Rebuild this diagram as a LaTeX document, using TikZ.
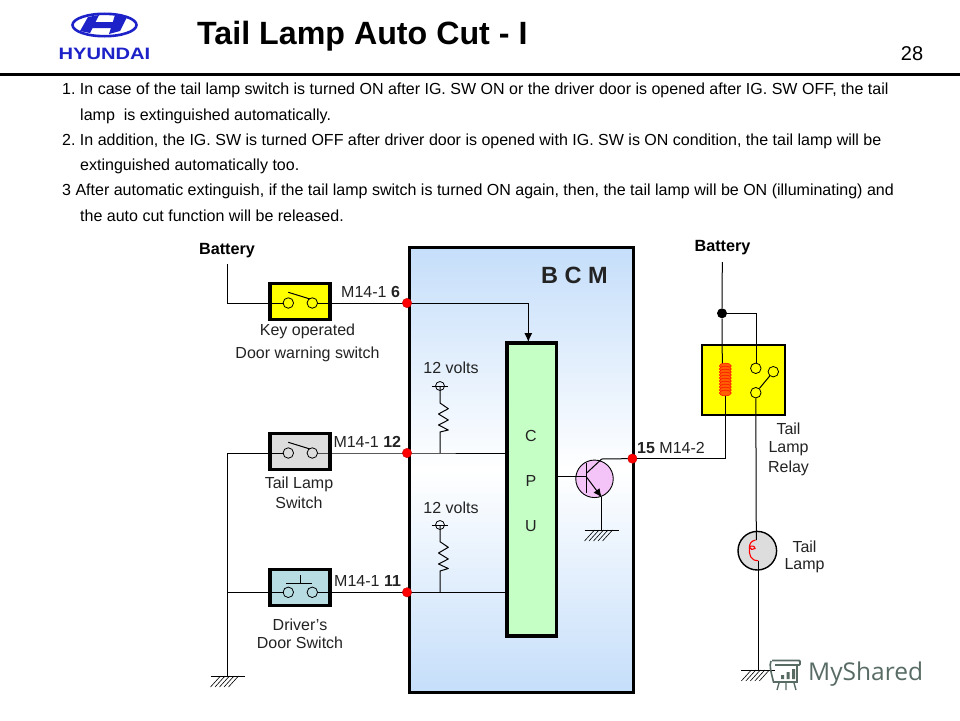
\documentclass[tikz,border=0pt]{standalone}
\usepackage{fontspec}
\setmainfont{Liberation Sans}
\newfontfamily\wmfont{Open Sans}
\usetikzlibrary{arrows.meta}
\definecolor{hblue}{RGB}{28,34,200}
\definecolor{bcmtop}{RGB}{197,222,250}
\definecolor{swy}{RGB}{255,255,0}
\definecolor{swg}{RGB}{221,221,221}
\definecolor{swt}{RGB}{183,221,226}
\definecolor{cpug}{RGB}{198,255,198}
\definecolor{tpink}{RGB}{244,196,248}
\definecolor{ctext}{RGB}{35,35,35}
\definecolor{wmark}{RGB}{88,108,100}
\tikzset{
  wire/.style={draw=black,line width=1pt},
  heavy/.style={draw=black,line width=3.2pt,outer sep=0pt},
  swbox/.style={heavy,minimum width=60pt,minimum height=36.5pt,inner sep=0pt},
  term/.style={circle,draw=black,line width=0.8pt,minimum size=10.5pt,inner sep=0pt},
  pin/.style={circle,fill=red,draw=red!75!black,line width=0.3pt,minimum size=9.5pt,inner sep=0pt},
  body/.style={font=\fontsize{16.02}{16}\selectfont,text=black,anchor=west,inner sep=0pt},
  lab/.style={font=\fontsize{16}{19}\selectfont,text=ctext,align=center,inner sep=0pt},
  blab/.style={font=\fontsize{16.2}{19}\selectfont\bfseries,text=black,inner sep=0pt},
  hatch/.style={draw=black,line width=0.6pt}
}
\newcommand{\earth}[1]{%
  \draw[wire] ([xshift=-17pt]#1) -- ([xshift=17pt]#1);
  \foreach \k in {-7,-2.5,2,6.5,11}
    \draw[hatch] ([xshift=\k pt]#1) -- ([xshift=\k pt-10pt,yshift=-11pt]#1);
}
\begin{document}
\begin{tikzpicture}[x=1pt,y=-1pt]
\useasboundingbox (0,0) rectangle (960,720);
\fill[white] (0,0) rectangle (960,720);
% header
\fill[black] (0,72.5) rectangle (960,75.5);
\node[anchor=west,inner sep=0pt,font=\fontsize{32.2}{33}\selectfont\bfseries] (title) at (197,36.5) {Tail Lamp Auto Cut - I};
\node[anchor=center,inner sep=0pt,font=\fontsize{20}{20}\selectfont] (page) at (912,54) {28};
% logo
\draw[hblue,line width=2.6pt] (104.5,25) ellipse [x radius=32,y radius=11.2];
\fill[hblue] (88,17) -- (99,15) -- (90,33) -- (80,31) -- cycle;
\fill[hblue] (115,15) -- (127,17) -- (120,31) -- (109,34) -- cycle;
\fill[hblue] (94,22) -- (120,22) -- (116,28) -- (92,28) -- cycle;
\node[anchor=center,inner sep=0pt,text=hblue,xscale=1.22,font=\fontsize{16.5}{16.5}\selectfont\bfseries] (logo) at (104.5,53.5) {HYUNDAI};
% body text
\node[body] (t1) at (62,90) {1.\ In case of the tail lamp switch is turned ON after IG. SW ON or the driver door is opened after IG. SW OFF, the tail};
\node[body] (t2) at (80,116) {lamp\ \ is extinguished automatically.};
\node[body] (t3) at (62,141) {2.\ In addition, the IG. SW is turned OFF after driver door is opened with IG. SW is ON condition, the tail lamp will be};
\node[body] (t4) at (80,166) {extinguished automatically too.};
\node[body] (t5) at (62,191) {3 After automatic extinguish, if the tail lamp switch is turned ON again, then, the tail lamp will be ON (illuminating) and};
\node[body] (t6) at (80,216) {the auto cut function will be released.};
% BCM
\node[heavy,inner sep=0pt,minimum width=224pt,minimum height=445pt,anchor=north west,top color=bcmtop,bottom color=bcmtop,middle color=white] (bcm) at (409.3,247.5) {};
\node[inner sep=0pt,font=\fontsize{23.5}{23.5}\selectfont\bfseries,text=ctext] (bcmt) at (574.5,275) {B C M};
% CPU
\node[heavy,fill=cpug,inner sep=0pt,minimum width=49.4pt,minimum height=293pt,anchor=north west] (cpu) at (507,343) {};
\node[lab] at (531,436) {C};
\node[lab] at (531,481) {P};
\node[lab] at (531,526) {U};
% switches
\node[swbox,fill=swy,anchor=north west] (s1) at (270,283.3) {};
\node[swbox,fill=swg,anchor=north west] (s2) at (270,433.3) {};
\node[swbox,fill=swt,anchor=north west] (s3) at (270,569.3) {};
\coordinate (p1) at (407,303);
\coordinate (p2) at (407,453);
\coordinate (p3) at (407,592.3);
% wiring
\coordinate (bat1) at (227.5,264);
\coordinate (g1) at (227.5,676);
\draw[wire] (bat1) -- (227.5,303) -- (283.5,303);
\draw[wire] (317,303) -- (p1);
\draw[wire,-{Latex[length=9pt,width=8pt]}] (p1) -- (528.3,303) -- (528.3,342);
\draw[wire] (g1) -- (227.5,453) -- (283.5,453);
\draw[wire] (317,453) -- (p2) -- (506,453);
\draw[wire] (227.5,592.3) -- (283.5,592.3);
\draw[wire] (317,592.3) -- (p3) -- (506,592.3);
% terminals
\foreach \n/\yy in {a/303,b/453,c/592.3}{
  \node[term] (\n L) at (288.3,\yy) {};
  \node[term] (\n R) at (312.3,\yy) {};
}
\draw[wire] (288.3,292.3) -- (310,299);
\draw[wire] (288.3,442.3) -- (310,449);
\draw[wire] (286,583.3) -- (311.7,583.3);
\draw[wire] (300,575) -- (300,583.3);
% pins
\node[pin] (P1) at (p1) {};
\node[pin] (P2) at (p2) {};
\node[pin] (P3) at (p3) {};
\node[pin] (P4) at (632.4,458.6) {};
% labels
\node[blab] (b1) at (227,251) {Battery};
\node[blab] (b2) at (722.5,248) {Battery};
\node[lab,anchor=west] at (341,292) {M14-1\ \textbf{6}};
\node[lab,anchor=west] at (333.3,442) {M14-1\ \textbf{12}};
\node[lab,anchor=west] at (334,581) {M14-1\ \textbf{11}};
\node[lab,anchor=west] at (637,447.5) {\textbf{15} M14-2};
\node[lab] at (307.5,331) {Key operated};
\node[lab] at (307.5,354.5) {Door warning switch};
\node[lab] at (299,484.5) {Tail Lamp};
\node[lab] at (299,503) {Switch};
\node[lab] at (300,624.5) {Driver’s};
\node[lab] at (300,643) {Door Switch};
\node[lab] at (451,368) {12 volts};
\node[lab] at (451,507.5) {12 volts};
\node[lab] at (788.5,429) {Tail};
\node[lab] at (788.5,449) {Lamp};
\node[lab] at (788.5,468) {Relay};
\node[lab] at (804.5,546.5) {Tail};
\node[lab] at (804.5,565.5) {Lamp};
% pull-ups
\node[term,minimum size=9pt] (u1) at (440,386) {};
\draw[wire] (431.7,386) -- (448,386);
\draw[wire,line join=round] (440,386) -- (440,403) -- (448.3,408.7) -- (438.5,414) -- (448.3,420) -- (438.5,425) -- (448.3,430) -- (440,432) -- (440,453);
\node[term,minimum size=9pt] (u2) at (440,525) {};
\draw[wire] (431.7,525) -- (448,525);
\draw[wire,line join=round] (440,525) -- (440,541.7) -- (448.3,547.3) -- (438.5,553) -- (448.3,559) -- (438.5,564) -- (448.3,568.5) -- (440,571) -- (440,592.3);
% transistor
\node[circle,draw=black,line width=0.9pt,fill=tpink,minimum size=37.5pt,inner sep=0pt] (q) at (594.5,478.8) {};
\draw[wire] (556,476.7) -- (586.7,476.7);
\draw[wire] (586.7,463) -- (586.7,493);
\draw[wire] (586.7,473) -- (601.7,459) -- (P4);
\draw[wire,-{Latex[length=8.5pt,width=7.5pt]}] (586.7,477.3) -- (601.7,497.3);
\draw[wire] (601.7,497.3) -- (601.7,530);
\coordinate (g2) at (601.5,530);
\earth{g2}
\coordinate (g0) at (227.5,676);
\earth{g0}
% relay
\node[heavy,line width=2pt,fill=swy,inner sep=0pt,minimum width=82.5pt,minimum height=70pt,anchor=north west] (relay) at (702,345) {};
\coordinate (bat2) at (722.3,262);
\node[circle,fill=black,inner sep=0pt,minimum size=10pt] (j) at (722,313.3) {};
\draw[wire] (bat2) -- (j) -- (722.3,364);
\draw[wire] (j) -- (756.3,313.3) -- (756.3,363);
\foreach \yy in {366,369,372,375,378,381,384,387,390,393}
  \draw[draw=red!85!orange,fill=orange!75!red,line width=0.6pt] (725.3,\yy) ellipse [x radius=6,y radius=2.8];
\draw[wire] (725,396) -- (725,458.6) -- (P4);
\node[term,fill=swy] (r1) at (755.8,368.3) {};
\node[term,fill=swy] (r2) at (773.3,371.7) {};
\node[term,fill=swy] (r3) at (755.8,392.7) {};
\draw[wire] (r3) -- (r2);
% lamp
\node[circle,draw=black,line width=1.4pt,fill=swg,minimum size=38.6pt,inner sep=0pt] (lamp) at (757.3,550.7) {};
\draw[wire] (r3) -- (756.3,540);
\draw[wire] (758.3,561) -- (758.3,670);
\draw[draw=red,line width=1.1pt] (755.5,540) .. controls (751,541) and (749.3,544) .. (749.3,548) .. controls (749.3,555) and (750,560.5) .. (758.3,560.7);
\draw[draw=red,line width=1.1pt] (749.3,547) .. controls (751,545) and (755,546) .. (755,548.5) .. controls (753,550.5) and (750,549.5) .. (749.3,547);
\coordinate (g3) at (758.3,670);
\earth{g3}
% watermark
\draw[wmark,line width=1.8pt,rounded corners=1pt] (772,660.5) -- (800,660.5) -- (800,665) -- (775,665);
\draw[wmark,line width=1.6pt] (771,661) .. controls (769,665) and (771,672) .. (773.5,682) -- (797,682) -- (797,665);
\fill[wmark] (781,675) rectangle (784,679) (786.5,672) rectangle (789.5,679) (792,669) rectangle (795,679);
\draw[wmark,line width=1.4pt] (779,683) -- (777,690) (794,683) -- (796,690) (786,683) -- (786,690);
\node[anchor=west,inner sep=0pt,text=wmark,font=\wmfont\fontsize{24.5}{25}\selectfont] (wm) at (808,674.5) {MyShared};
\end{tikzpicture}
\end{document}
